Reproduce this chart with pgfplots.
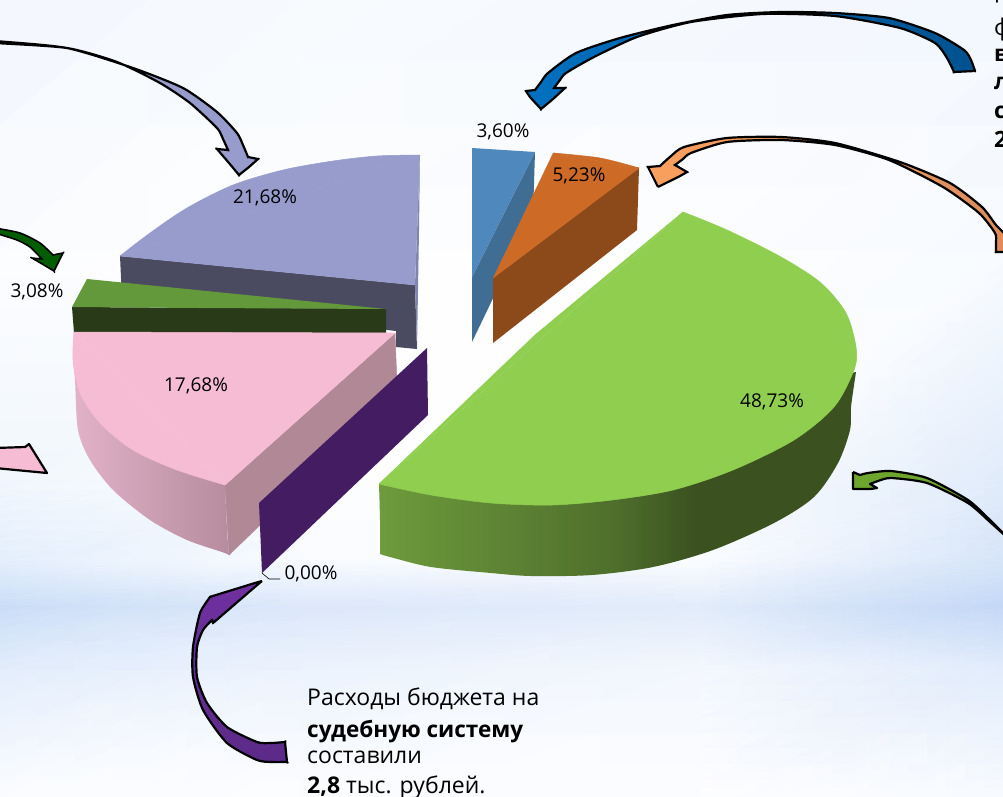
\documentclass[border=0pt]{standalone}
\usepackage{fontspec}
\setmainfont{Open Sans}
\usepackage{pgfplots}
\pgfplotsset{compat=1.18}

\definecolor{lav}{HTML}{979CCD}
\definecolor{lavside}{HTML}{4A4B60}
\definecolor{grn}{HTML}{63983B}
\definecolor{grnside}{HTML}{283A18}
\definecolor{pnk}{HTML}{F5BCD3}
\definecolor{pnkcut}{HTML}{B18896}
\definecolor{viol}{HTML}{441C61}
\definecolor{blu}{HTML}{4F88BC}
\definecolor{bluside}{HTML}{3F6D94}
\definecolor{org}{HTML}{CC6A26}
\definecolor{orgside}{HTML}{8C4A1A}
\definecolor{lime}{HTML}{90CE50}
\definecolor{limeA}{RGB}{110,155,60}
\definecolor{limeB}{RGB}{78,110,44}
\definecolor{limeC}{RGB}{59,82,32}
\definecolor{pinkA}{RGB}{226,178,200}
\definecolor{pinkB}{RGB}{182,140,158}
\definecolor{arrpurpleA}{RGB}{112,48,160}
\definecolor{arrpurpleB}{RGB}{91,42,135}
\definecolor{arrblueA}{RGB}{0,112,192}
\definecolor{arrblueB}{RGB}{0,82,143}
\definecolor{arrorgA}{RGB}{250,160,94}
\definecolor{arrorgB}{RGB}{221,140,90}

% the path box runs from 25bp to 75bp
\pgfdeclarehorizontalshading{limeside}{100bp}{color(0bp)=(limeA);color(25bp)=(limeA);color(50bp)=(limeB);color(58bp)=(limeC);color(100bp)=(limeC)}
\pgfdeclarehorizontalshading{pinkside}{100bp}{color(0bp)=(pinkA);color(25bp)=(pinkA);color(75bp)=(pinkB);color(100bp)=(pinkB)}

% doubled points in a smooth path are corners
\tikzset{
	arr/.style={smooth, tension=0.4, draw=black, line width=2.2pt},
	top/.style={fill=#1, draw=#1, line width=0.5pt},
	txt/.style={anchor=base west, inner sep=0pt, font=\fontsize{23}{26}\selectfont},
	txtb/.style={anchor=base west, inner sep=0pt, font=\fontsize{22.5}{26}\selectfont\bfseries},
}

\begin{document}
\begin{tikzpicture}
\path[use as bounding box, clip] (0,0) rectangle (1003pt,796pt);
\begin{axis}[
	at={(0,0)}, anchor=south west,
	scale only axis, width=1003pt, height=796pt,
	xmin=0, xmax=1003, ymin=0, ymax=796, y dir=reverse,
	hide axis, clip=true,
	font=\fontsize{19}{22}\selectfont,
	every axis plot/.append style={line join=round},
]
% background
\addplot[surf, shader=interp, mesh/color input=explicit, mesh/cols=4] coordinates {
(0,0)[rgb255=244,248,254] (300,0)[rgb255=248,251,254] (700,0)[rgb255=245,249,254] (1003,0)[rgb255=243,247,254]
(0,250)[rgb255=252,253,255] (300,250)[rgb255=254,254,255] (700,250)[rgb255=254,254,255] (1003,250)[rgb255=248,251,255]
(0,480)[rgb255=240,246,253] (300,480)[rgb255=252,253,255] (700,480)[rgb255=252,253,255] (1003,480)[rgb255=224,235,250]
(0,560)[rgb255=228,238,252] (300,560)[rgb255=248,251,255] (700,560)[rgb255=250,252,255] (1003,560)[rgb255=215,229,249]
(0,605)[rgb255=203,222,247] (300,605)[rgb255=221,232,250] (700,605)[rgb255=226,236,250] (1003,605)[rgb255=196,216,246]
(0,670)[rgb255=228,238,252] (300,670)[rgb255=238,244,253] (700,670)[rgb255=244,248,254] (1003,670)[rgb255=226,236,251]
(0,796)[rgb255=252,253,255] (300,796)[rgb255=254,254,255] (700,796)[rgb255=254,254,255] (1003,796)[rgb255=248,251,255]
};

% 21,68 %
\addplot[fill=lavside, draw=none] coordinates {(120,256)(415,285)(417,349)(396,347)(396,331)(122,300)};
\addplot[fill=lav!85!black, draw=none] coordinates {(420,155)(415,285)(417,349)(419,230)};
\addplot[top=lav] coordinates {(420,155)(120,256)(415,285)};
\addplot[smooth, top=lav] coordinates {(420,155)(377,156)(333,161)(283,170)(233,185)(187,208)(150,233)(120,256)};

% 3,08 %
\addplot[fill=grnside, draw=none] coordinates {(72,307)(386,309)(386,333)(74,333)};
\addplot[fill=grn, draw=none] coordinates {(87,279)(386,309)(200,308)(72,307)};

% 17,68 %
\addplot[smooth, shade, shading=pinkside, draw=none] coordinates {(73,360)(75,380)(78,430)(90,460)(113,490)(150,520)(187,540)(222,552)(229,555)(229,555)(228,545)(226,510)(225,485)};
\addplot[top=pnkcut] coordinates {(395,333)(397,385)(260,525)(229,555)(225,485)};
\addplot[top=pnk] coordinates {(74,332)(395,333)(225,485)};
\addplot[smooth, top=pnk] coordinates {(74,332)(73,360)(80,393)(100,423)(133,450)(177,470)(225,485)};

% 0,00 %
\addplot[fill=viol, draw=none] coordinates {(427,348)(428,415)(262,573)(259,503)};
\addplot[black, line width=0.6pt] coordinates {(262,573)(269,579)(280,579)};

% 3,60 %
\addplot[fill=bluside, draw=none] coordinates {(535,152)(472,277)(472,342)(533,215)};
\addplot[fill=blu, draw=none] coordinates {(472,148)(535,152)(472,277)};

% 5,23 %
\addplot[fill=orgside, draw=none] coordinates {(639,168)(493,278)(493,343)(637,230)};
\addplot[top=org] coordinates {(553,153)(639,168)(493,278)};
\addplot[smooth, top=org] coordinates {(553,153)(600,158)(639,168)};

% 48,73 %
\addplot[smooth, shade, shading=limeside, draw=none] coordinates {(379,484)(380,520)(380,546)(380,554)(380,554)(390,557)(431,567)(491,573)(531,576)(592,575)(653,567)(713,550)(774,523)(814,497)(838,463)(850,430)(851,407)(856,372)};
\addplot[top=lime] coordinates {(379,484)(535,335)(683,212)};
\addplot[smooth, top=lime] coordinates {(683,212)(727,230)(781,257)(821,283)(846,313)(856,347)(854,370)(834,407)(794,440)(733,470)(673,490)(612,500)(552,505)(491,503)(431,495)(379,484)};

% arrows
\addplot[arr, fill=lav] coordinates {(-5,41)(-5,41)(67,48)(133,68)(183,88)(217,112)(237,133)(243,145)(248,157)(248,157)(258,159)(258,159)(249,167)(239,175)(239,175)(229,163)(217,149)(217,149)(228,150)(228,150)(223,139)(217,128)(190,103)(160,83)(117,62)(67,48)(-5,43)(-5,43)(-5,41)};
\addplot[arr, fill=green!37!black, line width=1.6pt] coordinates {(-5,228)(-5,228)(20,233)(40,243)(53,255)(53,255)(63,253)(63,253)(54,271)(54,271)(32,258)(32,258)(42,259)(42,259)(30,247)(17,240)(-5,233)(-5,233)(-5,228)};
\addplot[fill=pnk, draw=black, line width=2.2pt] coordinates {(-5,448)(25,447)(29,444)(47,473)(-5,468)(-5,448)};
\addplot[arr, shade, top color=arrpurpleA, bottom color=arrpurpleB] coordinates {(262,581)(255,583)(216,595)(210,597)(210,597)(200,613)(193,647)(193,677)(203,710)(227,743)(257,760)(272,762)(287,762)(287,762)(285,742)(285,742)(271,743)(257,742)(227,727)(207,703)(197,677)(197,647)(203,630)(212,620)(212,620)(213,623)(213,623)(220,617)(256,586)(262,581)};
\addplot[arr, shade, left color=arrblueA, right color=arrblueB] coordinates {(975,71)(975,71)(971,60)(964,50)(935,33)(889,18)(835,13)(781,12)(727,15)(673,25)(620,38)(576,53)(548,73)(541,82)(535,90)(535,90)(526,91)(526,91)(530,97)(541,109)(541,109)(553,99)(565,88)(565,88)(554,88)(554,88)(560,80)(566,73)(594,57)(637,37)(691,22)(763,14)(835,16)(900,28)(935,43)(947,58)(954,72)(954,72)(975,71)};
\addplot[arr, shade, left color=arrorgA, right color=arrorgB] coordinates {(658,187)(653,177)(648,167)(648,167)(660,166)(660,166)(671,156)(684,147)(727,138)(781,137)(835,143)(900,162)(950,183)(982,207)(996,225)(1010,240)(1010,252)(1010,252)(996,252)(996,252)(996,242)(995,233)(979,213)(943,187)(889,160)(835,145)(781,140)(727,142)(691,153)(683,159)(675,165)(675,165)(687,172)(687,172)(680,176)(664,184)(658,187)};
\addplot[arr, fill={rgb,255:red,110;green,165;blue,44}] coordinates {(853,472)(853,472)(860,475)(860,475)(868,473)(891,471)(927,478)(968,500)(990,520)(1000,530)(1010,540)(1010,540)(1000,531)(990,522)(968,503)(927,483)(891,478)(878,481)(870,484)(870,484)(877,488)(877,488)(870,489)(860,489)(853,489)(853,489)(853,482)(853,472)};

% slice labels
\node at (503,132) {3,60\%};
\node at (579,176) {5,23\%};
\node at (265,198) {21,68\%};
\node at (37,292) {3,08\%};
\node at (196,386) {17,68\%};
\node at (772,402) {48,73\%};
\node at (311,574) {0,00\%};

% text block
\node[txt] at (307,705) {Расходы бюджета на};
\node[txtb] at (307,737) {судебную систему};
\node[txt] at (307,763) {составили};
\node[txt] at (307,793) {\textbf{2,8} тыс. рублей.};

% text cut off by the right edge
\node[txt] at (994,-3) {р};
\node[txt] at (994,35) {ф};
\node[txtb] at (994,61) {в};
\node[txtb] at (994,89) {л};
\node[txtb] at (994,118) {с};
\node[txtb] at (994,147) {2};
\end{axis}
\end{tikzpicture}
\end{document}
